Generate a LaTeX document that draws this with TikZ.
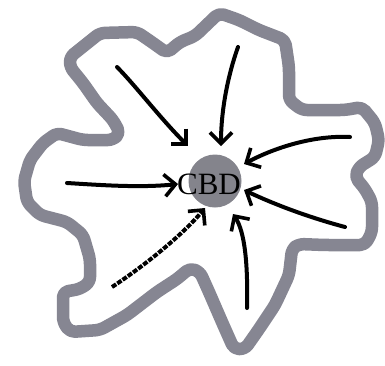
\documentclass[tikz,border=0pt]{standalone}
\usepackage{fontspec}
\setmainfont{Liberation Serif}
\usetikzlibrary{arrows.meta}
\definecolor{bandgray}{RGB}{134,134,146}
\definecolor{cbdgray}{RGB}{132,132,140}
\tikzset{
  band/.style={draw=bandgray, line width=12.5pt, line join=round, rounded corners=5pt},
  flow/.style={draw=black, line width=4pt, line cap=round,
    -{Straight Barb[length=11pt,width=22pt,line width=3.6pt]}},
  flowdash/.style={flow, dash pattern=on 5pt off 1.4pt, line cap=butt},
}
\begin{document}
\begin{tikzpicture}[x=1pt,y=-1pt]
\useasboundingbox (0,0) rectangle (385,365);
\fill[white] (0,0) rectangle (385,365);
% city outline
\draw[band] (219,13) -- (239,20) -- (259,30) -- (285,40) -- (289,67) -- (289,100)
  -- (302,110) -- (345,110) -- (362,107) -- (375,123) -- (379,140) -- (375,157)
  -- (359,167) -- (355,177) -- (365,189) -- (372,202) -- (372,232) -- (365,245)
  -- (325,245) -- (299,244) -- (292,249) -- (289,275) -- (275,305) -- (259,329)
  -- (245,349) -- (234,349) -- (222,322) -- (209,292) -- (200,272) -- (190,268)
  -- (177,279) -- (157,292) -- (127,315) -- (100,330) -- (70,332) -- (63,322)
  -- (63,292) -- (80,289) -- (90,282) -- (90,259) -- (83,235) -- (67,222)
  -- (40,215) -- (27,202) -- (24,181) -- (30,160) -- (43,143) -- (57,133)
  -- (83,140) -- (113,140) -- (120,133) -- (113,120) -- (97,103) -- (83,83)
  -- (70,67) -- (70,57) -- (100,33) -- (137,32) -- (153,43) -- (167,53)
  -- (180,42) -- (195,36) -- cycle;
% CBD
\node[circle, fill=cbdgray, minimum size=53pt, inner sep=0pt] (cbd) at (215,181) {};
\node[inner sep=0pt] (cbdlabel) at (209,184) {\fontsize{31}{31}\selectfont CBD};
% arrow ends
\coordinate (s1) at (117,67);  \coordinate (e1) at (188,146);
\coordinate (s2) at (238,47);  \coordinate (e2) at (221,146);
\coordinate (s3) at (350,137); \coordinate (e3) at (244,164);
\coordinate (s4) at (67,183);  \coordinate (e4) at (178,184);
\coordinate (s5) at (112,287); \coordinate (e5) at (205,208);
\coordinate (s6) at (247,308); \coordinate (e6) at (233,214);
\coordinate (s7) at (345,227); \coordinate (e7) at (244,190);
\draw[flow] (s1) .. controls (135,85) and (160,118) .. (e1);
\draw[flow] (s2) .. controls (228,75) and (221,110) .. (e2);
\draw[flow] (s3) .. controls (310,135) and (270,150) .. (e3);
\draw[flow] (s4) .. controls (100,185) and (140,188) .. (e4);
\draw[flowdash] (s5) .. controls (150,262) and (185,232) .. (e5);
\draw[flow] (s6) .. controls (248,265) and (245,232) .. (e6);
\draw[flow] (s7) .. controls (300,215) and (265,200) .. (e7);
\end{tikzpicture}
\end{document}
